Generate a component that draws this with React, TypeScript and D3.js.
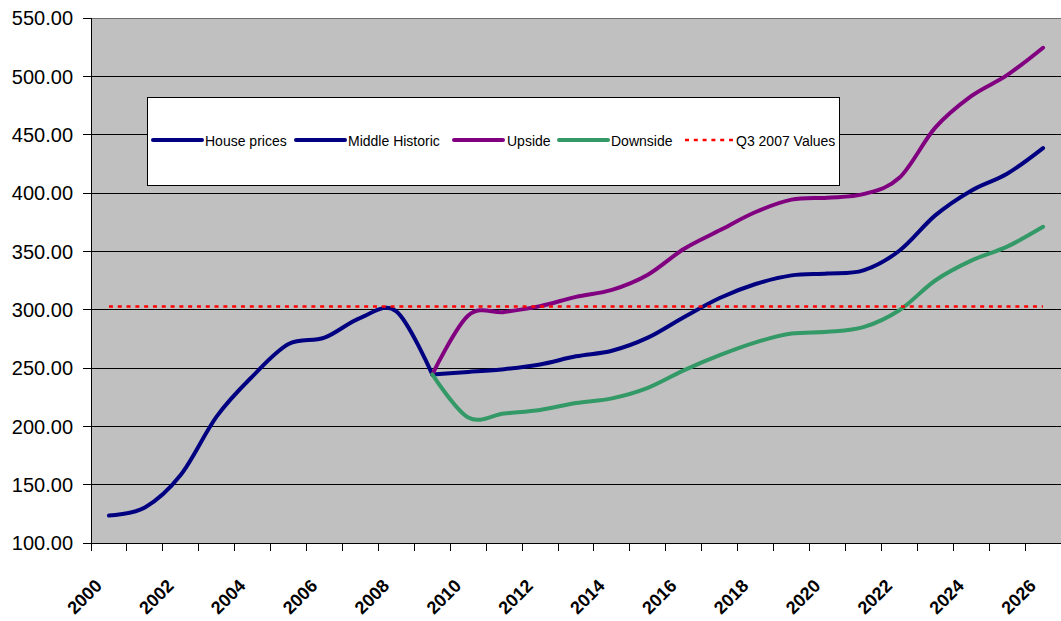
import React from 'react';
import * as d3 from 'd3';

const years = [2000, 2001, 2002, 2003, 2004, 2005, 2006, 2007, 2008, 2009, 2010, 2011, 2012, 2013,
  2014, 2015, 2016, 2017, 2018, 2019, 2020, 2021, 2022, 2023, 2024, 2025, 2026];

const labelYears = [2000, 2002, 2004, 2006, 2008, 2010, 2012, 2014, 2016, 2018, 2020, 2022, 2024, 2026];

const yTicks = [100, 150, 200, 250, 300, 350, 400, 450, 500, 550];

type V = number | null;

const housePrices: V[] = [123.5, 130.5, 158.5, 208.5, 243, 270.5, 276, 293, 298.5, 244.5,
  null, null, null, null, null, null, null, null, null, null, null, null, null, null, null, null, null];

const middleHistoric: V[] = [null, null, null, null, null, null, null, null, null, 244.5,
  246.6, 249, 253, 260, 264.8, 276, 293.5, 310, 322, 329.4, 331, 333.7, 350.5, 380.8, 402, 416.5, 438.5];

const upside: V[] = [null, null, null, null, null, null, null, null, null, 244.5,
  295, 298, 303, 311, 317, 330, 352, 368, 383.7, 394.3, 396, 399, 413, 456, 483, 501, 524.5];

const downside: V[] = [null, null, null, null, null, null, null, null, null, 244.5,
  207.5, 211, 214, 220, 224, 233, 248, 261, 272, 279.5, 281, 285, 299.5, 325, 342, 354, 371];

const q3Value = 302.8;
const q3Values: V[] = years.map(() => q3Value);

const seriesNames = ['House prices', 'Middle Historic', 'Upside', 'Downside', 'Q3 2007 Values'];
const seriesColors = ['#000080', '#000080', '#800080', '#339966', '#FF0000'];

export default function App() {
  const left = 91, right = 1061, top = 18, bottom = 543;
  const x = d3.scaleBand<number>().domain(years).range([left, right]).paddingInner(0).paddingOuter(0);
  const bw = x.bandwidth();
  const cx = (yr: number) => (x(yr) as number) + bw / 2;
  const y = d3.scaleLinear().domain([100, 550]).range([bottom, top]);

  const line = d3.line<V>()
    .defined((d) => d != null)
    .x((_, i) => cx(years[i]))
    .y((d) => y(d as number))
    .curve(d3.curveCardinal.tension(0));

  const straight = d3.line<V>()
    .defined((d) => d != null)
    .x((_, i) => cx(years[i]))
    .y((d) => y(d as number));

  const tickXs = years.map((yr) => x(yr) as number).concat([right]);

  const data = [housePrices, middleHistoric, upside, downside];

  const legendItems = [
    { lx: 153, tx: 205 },
    { lx: 296, tx: 348 },
    { lx: 454, tx: 507 },
    { lx: 559, tx: 611 },
    { lx: 685, tx: 736 },
  ];
  const ly = 140;

  return (
    <svg width={1061} height={621} style={{ position: 'fixed', left: 0, top: 0, background: '#fff' }}
      fontFamily="'Liberation Sans', Arial, sans-serif">
      <rect x={left} y={top} width={right - left} height={bottom - top} fill="#C0C0C0" />
      {yTicks.map((t) => (
        <line key={'g' + t} x1={left} x2={right} y1={y(t)} y2={y(t)}
          stroke={t === 550 ? '#707070' : '#000'} strokeWidth={1} shapeRendering="crispEdges" />
      ))}
      <line x1={left} x2={left} y1={top} y2={bottom} stroke="#000" strokeWidth={1} shapeRendering="crispEdges" />
      <line x1={left} x2={right} y1={bottom} y2={bottom} stroke="#000" strokeWidth={1} shapeRendering="crispEdges" />
      {yTicks.map((t) => (
        <g key={'yt' + t}>
          <line x1={left - 8} x2={left} y1={y(t)} y2={y(t)} stroke="#000" shapeRendering="crispEdges" />
          <text x={73} y={y(t)} dy="0.36em" textAnchor="end" fontSize={20} fill="#000">{t.toFixed(2)}</text>
        </g>
      ))}
      {tickXs.map((tx, i) => (
        <line key={'xt' + i} x1={tx} x2={tx} y1={bottom} y2={bottom + 8} stroke="#000" shapeRendering="crispEdges" />
      ))}
      {labelYears.map((yr) => (
        <text key={'xl' + yr} transform={`translate(${cx(yr) - 6},${587}) rotate(-45)`}
          textAnchor="end" fontSize={18} fontWeight="bold" fill="#000">{yr}</text>
      ))}
      {data.map((d, i) => (
        <path key={'s' + i} d={line(d) || ''} fill="none" stroke={seriesColors[i]} strokeWidth={4}
          strokeLinecap="round" strokeLinejoin="round" />
      ))}
      <path d={straight(q3Values) || ''} fill="none" stroke={seriesColors[4]} strokeWidth={2.5}
        strokeDasharray="4 4.8" />
      <rect x={147.5} y={97.5} width={692} height={88} fill="#fff" stroke="#000" strokeWidth={1} />
      {seriesNames.map((n, i) => (
        <g key={'lg' + i}>
          <line x1={legendItems[i].lx} x2={legendItems[i].lx + 49} y1={ly} y2={ly}
            stroke={seriesColors[i]} strokeWidth={i === 4 ? 2.5 : 4}
            strokeLinecap={i === 4 ? 'butt' : 'round'} strokeDasharray={i === 4 ? '4 4.8' : undefined} />
          <text x={legendItems[i].tx} y={ly} dy="0.4em" fontSize={14} fill="#000">{n}</text>
        </g>
      ))}
    </svg>
  );
}
